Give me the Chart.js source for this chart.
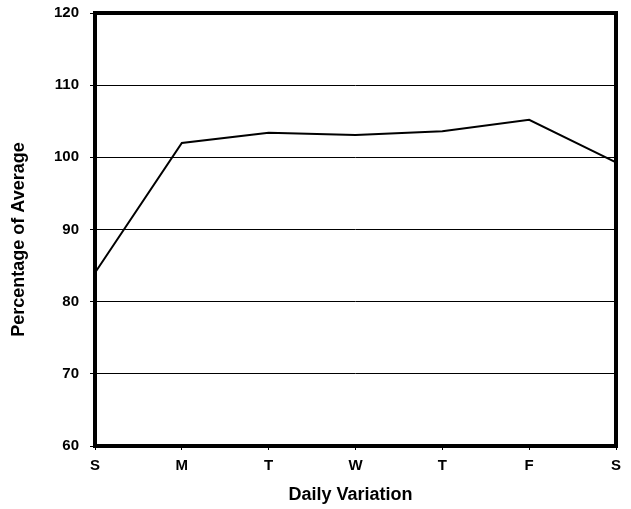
<!DOCTYPE html>
<html>
<head>
<meta charset="utf-8">
<script src="https://cdn.jsdelivr.net/npm/chart.js@4"></script>
<style>
  html, body { margin: 0; padding: 0; background: #fff; }
  #wrap { width: 631px; height: 509px; }
</style>
</head>
<body>
<div id="wrap"><canvas id="myChart" width="631" height="509"></canvas></div>
<script>
'use strict';

var days = ['S', 'M', 'T', 'W', 'T', 'F', 'S'];
var percentOfAverage = [84.0, 102.0, 103.4, 103.1, 103.6, 105.2, 99.3];
var yTicks = [60, 70, 80, 90, 100, 110, 120];

// thick frame round the plot area
var frame = {
    id: 'frame',
    afterDatasetsDraw: function(chart) {
        var a = chart.chartArea, ctx = chart.ctx;
        ctx.save();
        ctx.strokeStyle = '#000';
        ctx.lineWidth = 4;
        ctx.strokeRect(a.left, a.top, a.right - a.left, a.bottom - a.top);
        ctx.restore();
    }
};

Chart.defaults.font.family = "'Liberation Sans', Arial, sans-serif";
Chart.defaults.color = '#000';

var ctx = document.getElementById('myChart').getContext('2d');
new Chart(ctx, {
    type: 'line',
    data: {
        labels: days,
        datasets: [{
            data: percentOfAverage,
            borderColor: '#000',
            borderWidth: 2,
            pointRadius: 0,
            fill: false,
            tension: 0
        }]
    },
    options: {
        responsive: false,
        animation: false,
        layout: { padding: { top: 13, right: 15, bottom: 0, left: 0 } },
        plugins: { legend: { display: false }, tooltip: { enabled: false } },
        scales: {
            x: {
                offset: false,
                grid: { drawOnChartArea: false, color: '#000', tickLength: 4 },
                border: { display: false },
                ticks: { font: { size: 15, weight: 'bold' }, padding: 7, maxRotation: 0 },
                title: { display: true, text: 'Daily Variation  ', font: { size: 18, weight: 'bold' }, padding: { top: 0, bottom: 3 } },
                afterFit: function(s) { s.height = 63; s.paddingLeft = 0; s.paddingRight = 0; }
            },
            y: {
                min: 60,
                max: 120,
                afterBuildTicks: function(s) { s.ticks = yTicks.map(function(v) { return { value: v }; }); },
                grid: { color: '#000', lineWidth: 1, tickLength: 5 },
                border: { display: false },
                ticks: { font: { size: 15, weight: 'bold' }, padding: 11 },
                title: { display: true, text: 'Percentage of Average    ', font: { size: 18, weight: 'bold' }, padding: { top: 8, bottom: 0 } },
                afterFit: function(s) { s.width = 95; s.paddingTop = 0; s.paddingBottom = 0; }
            }
        }
    },
    plugins: [frame]
});
</script>
</body>
</html>
